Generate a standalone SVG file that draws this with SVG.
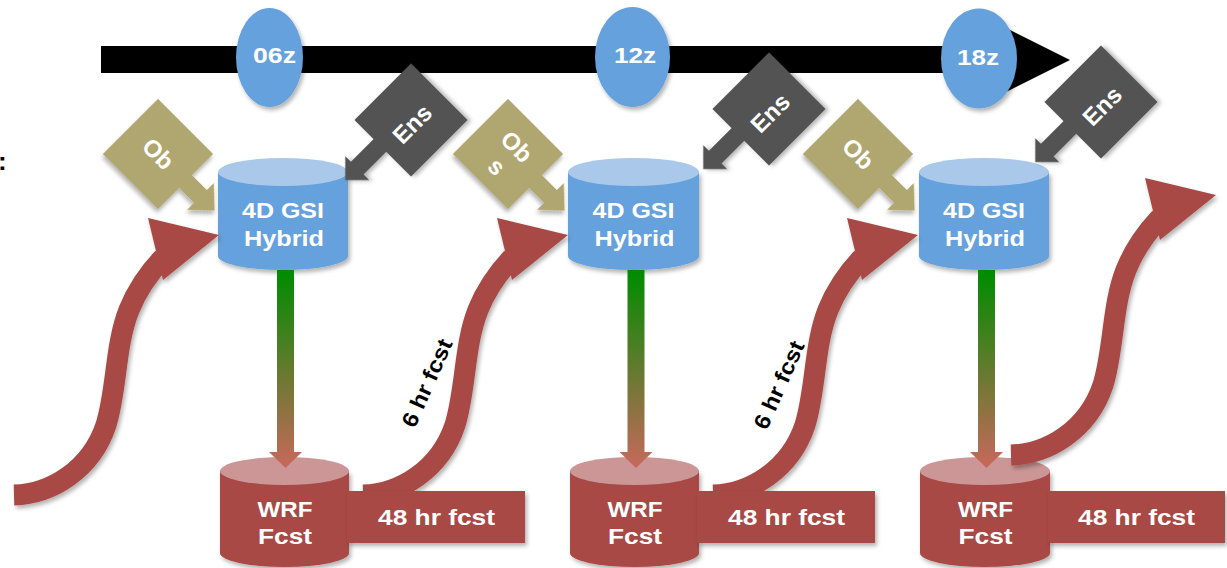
<svg xmlns="http://www.w3.org/2000/svg" width="1227" height="568" viewBox="0 0 1227 568">
<style>
.t{font-family:"Liberation Sans",Arial,Helvetica,sans-serif;font-weight:bold;font-size:22px;fill:#fff;text-anchor:middle}
.bt{font-size:24px}
.lb{font-family:"Liberation Sans",Arial,Helvetica,sans-serif;font-weight:bold;font-size:22px;fill:#000;text-anchor:middle}
.tl{fill:#000}
.el{fill:#65a1dc}
.cb{fill:#65a1dc}
.ct{fill:#a9c8ea}
.wb{fill:#a84a44}
.wt{fill:#cc9696}
.ob{fill:#b0a670}
.en{fill:#535353}
.rb{fill:#a84a44}
.ga{fill:url(#gr)}
</style>
<defs>
<filter id="sh" x="-20%" y="-20%" width="150%" height="150%">
<feDropShadow dx="2" dy="3" stdDeviation="2" flood-color="#000" flood-opacity="0.3"/>
</filter>
<linearGradient id="gr" gradientUnits="userSpaceOnUse" x1="0" y1="272" x2="0" y2="468">
<stop offset="0" stop-color="#008c00"/>
<stop offset="1" stop-color="#c8685c"/>
</linearGradient>
<g id="ra">
<path d="M363,495 C400,494 440,470 455,425 C466,390 464,345 478,310 C486,290 496,275 512,258" fill="none" stroke="#a84a44" stroke-width="21"/>
<polygon points="497,218 568,235 512,280" fill="#a84a44"/>
</g>
</defs>

<text class="lb" x="-2" y="170" style="text-anchor:start;font-size:26px">:</text>

<g id="timeline">
<rect class="tl" x="101" y="46" width="915" height="27"/>
<polygon class="tl" points="1000,25 1070,60 1000,95"/>
</g>

<g id="t06z">
<ellipse class="el" cx="269.5" cy="57.5" rx="33.5" ry="49.5" filter="url(#sh)"/>
<text class="t" x="274.5" y="63" textLength="43" lengthAdjust="spacingAndGlyphs">06z</text>
</g>
<g id="t12z">
<ellipse class="el" cx="632.5" cy="57" rx="37.5" ry="50" filter="url(#sh)"/>
<text class="t" x="635" y="63" textLength="42" lengthAdjust="spacingAndGlyphs">12z</text>
</g>
<g id="t18z">
<ellipse class="el" cx="979" cy="58.5" rx="38" ry="50" filter="url(#sh)"/>
<text class="t" x="978" y="65" textLength="42" lengthAdjust="spacingAndGlyphs">18z</text>
</g>

<g id="gsi1">
<path class="cb" filter="url(#sh)" d="M218,172 V256 A65,14 0 0 0 348,256 V172 Z"/>
<ellipse class="ct" cx="283" cy="172" rx="65" ry="14"/>
<text class="t" x="283" y="218" textLength="82" lengthAdjust="spacingAndGlyphs">4D GSI</text>
<text class="t" x="284" y="246" textLength="80" lengthAdjust="spacingAndGlyphs">Hybrid</text>
</g>
<g id="gsi2">
<path class="cb" filter="url(#sh)" d="M568,172 V256 A65.5,14 0 0 0 699,256 V172 Z"/>
<ellipse class="ct" cx="633.5" cy="172" rx="65.5" ry="14"/>
<text class="t" x="633.5" y="218" textLength="82" lengthAdjust="spacingAndGlyphs">4D GSI</text>
<text class="t" x="634.5" y="246" textLength="80" lengthAdjust="spacingAndGlyphs">Hybrid</text>
</g>
<g id="gsi3">
<path class="cb" filter="url(#sh)" d="M919,172 V256 A65,14 0 0 0 1049,256 V172 Z"/>
<ellipse class="ct" cx="984" cy="172" rx="65" ry="14"/>
<text class="t" x="984" y="218" textLength="82" lengthAdjust="spacingAndGlyphs">4D GSI</text>
<text class="t" x="985" y="246" textLength="80" lengthAdjust="spacingAndGlyphs">Hybrid</text>
</g>

<g id="ob1" transform="translate(158,154) rotate(45)">
<path class="ob" filter="url(#sh)" d="M-39,-39 H39 V-9 H60 V-19 L80,0 L60,19 V9 H39 V39 H-39 Z"/>
<text class="t bt" x="0" y="8">Ob</text>
</g>
<g id="ob2" transform="translate(508,154) rotate(45)">
<path class="ob" filter="url(#sh)" d="M-39,-39 H39 V-9 H60 V-19 L80,0 L60,19 V9 H39 V39 H-39 Z"/>
<text class="t bt" x="1" y="-3">Ob</text>
<text class="t bt" x="1" y="25">s</text>
</g>
<g id="ob3" transform="translate(858,154) rotate(45)">
<path class="ob" filter="url(#sh)" d="M-39,-39 H39 V-9 H60 V-19 L80,0 L60,19 V9 H39 V39 H-39 Z"/>
<text class="t bt" x="0" y="8">Ob</text>
</g>

<g id="ens1" transform="translate(411,120) rotate(-45)">
<path class="en" filter="url(#sh)" d="M-40,-40 H40 V40 H-40 V5 H-72 V13 L-89,-4 L-72,-21 V-13 H-40 Z"/>
<text class="t bt" x="-2" y="12">Ens</text>
</g>
<g id="ens2" transform="translate(769,109) rotate(-45)">
<path class="en" filter="url(#sh)" d="M-40,-40 H40 V40 H-40 V5 H-72 V13 L-89,-4 L-72,-21 V-13 H-40 Z"/>
<text class="t bt" x="-2" y="12">Ens</text>
</g>
<g id="ens3" transform="translate(1101,102) rotate(-45)">
<path class="en" filter="url(#sh)" d="M-40,-40 H40 V40 H-40 V5 H-72 V13 L-89,-4 L-72,-21 V-13 H-40 Z"/>
<text class="t bt" x="-2" y="12">Ens</text>
</g>

<g id="wrf1">
<path class="wb" filter="url(#sh)" d="M220,471 V553 A64.5,14 0 0 0 349,553 V471 Z"/>
<ellipse class="wt" cx="284.5" cy="471" rx="64.5" ry="14"/>
<text class="t" x="285" y="517" textLength="55" lengthAdjust="spacingAndGlyphs">WRF</text>
<text class="t" x="285" y="544" textLength="54" lengthAdjust="spacingAndGlyphs">Fcst</text>
</g>
<g id="wrf2">
<path class="wb" filter="url(#sh)" d="M570,471 V553 A64.5,14 0 0 0 699,553 V471 Z"/>
<ellipse class="wt" cx="634.5" cy="471" rx="64.5" ry="14"/>
<text class="t" x="635" y="517" textLength="55" lengthAdjust="spacingAndGlyphs">WRF</text>
<text class="t" x="635" y="544" textLength="54" lengthAdjust="spacingAndGlyphs">Fcst</text>
</g>
<g id="wrf3">
<path class="wb" filter="url(#sh)" d="M920,471 V553 A65,14 0 0 0 1050,553 V471 Z"/>
<ellipse class="wt" cx="985" cy="471" rx="65" ry="14"/>
<text class="t" x="985.5" y="517" textLength="55" lengthAdjust="spacingAndGlyphs">WRF</text>
<text class="t" x="985.5" y="544" textLength="54" lengthAdjust="spacingAndGlyphs">Fcst</text>
</g>

<g id="connectors">
<path class="ga" d="M277,270 H294 V452 H302 L285.5,468 L269,452 H277 Z"/>
<path class="ga" transform="translate(350.5,0)" d="M277,270 H294 V452 H302 L285.5,468 L269,452 H277 Z"/>
<path class="ga" transform="translate(701,0)" d="M277,270 H294 V452 H302 L285.5,468 L269,452 H277 Z"/>
<use href="#ra" transform="translate(-349,0)" filter="url(#sh)"/>
<use href="#ra" filter="url(#sh)"/>
<use href="#ra" transform="translate(350,0)" filter="url(#sh)"/>
<use href="#ra" transform="translate(648,-40)" filter="url(#sh)"/>
<text class="lb" transform="translate(427,383) rotate(-66)" x="0" y="7.5" textLength="94" lengthAdjust="spacingAndGlyphs">6 hr fcst</text>
<text class="lb" transform="translate(779,385) rotate(-66)" x="0" y="7.5" textLength="94" lengthAdjust="spacingAndGlyphs">6 hr fcst</text>
</g>

<g id="f48a">
<rect class="rb" filter="url(#sh)" x="347" y="491" width="178" height="52"/>
<text class="t" x="436.5" y="525" textLength="117" lengthAdjust="spacingAndGlyphs">48 hr fcst</text>
</g>
<g id="f48b">
<rect class="rb" filter="url(#sh)" x="697" y="491" width="178" height="52"/>
<text class="t" x="786.5" y="525" textLength="117" lengthAdjust="spacingAndGlyphs">48 hr fcst</text>
</g>
<g id="f48c">
<rect class="rb" filter="url(#sh)" x="1048" y="491" width="177" height="52"/>
<text class="t" x="1136.5" y="525" textLength="117" lengthAdjust="spacingAndGlyphs">48 hr fcst</text>
</g>
</svg>
